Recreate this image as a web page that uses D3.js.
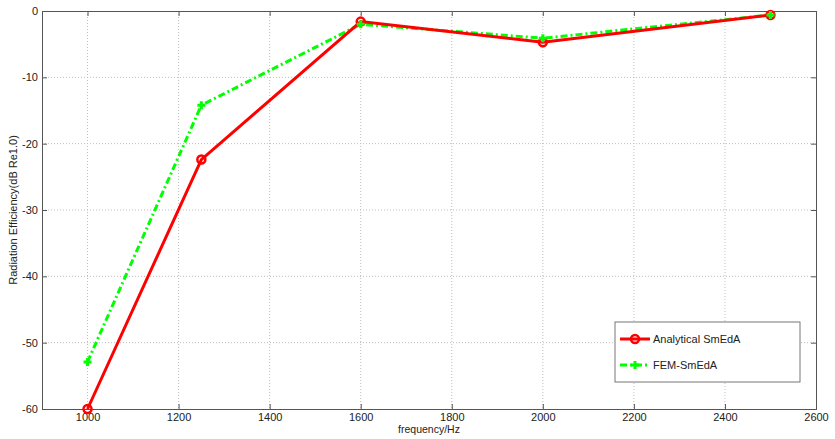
<!DOCTYPE html>
<html>
<head>
<meta charset="utf-8">
<script src="https://cdn.jsdelivr.net/npm/d3@7"></script>
<style>
  body { margin: 0; background: #fff; }
  svg { display: block; font-family: "Liberation Sans", Arial, sans-serif; }
</style>
</head>
<body>
<svg id="chart" width="835" height="439"></svg>
<script>
// Frequencies (Hz) and radiation efficiency (dB re 1.0)
const frequencies = [1000, 1250, 1600, 2000, 2500];
const analytical = [-60, -22.4, -1.6, -4.7, -0.6];
const fem = [-52.9, -14.2, -2.0, -4.1, -0.6];
const xTicks = [1000, 1200, 1400, 1600, 1800, 2000, 2200, 2400, 2600];
const yTicks = [0, -10, -20, -30, -40, -50, -60];

const svg = d3.select("#chart");
const m = { left: 42, top: 11, right: 816, bottom: 409 };

const x = d3.scaleLinear().domain([900, 2600]).range([m.left, m.right]);
const y = d3.scaleLinear().domain([-60, 0]).range([m.bottom, m.top]);

// dotted grid
const grid = svg.append("g").attr("stroke", "#bdbdbd").attr("stroke-dasharray", "1,2").attr("stroke-width", 1);
xTicks.filter(t => t > 900 && t < 2600).forEach(t => {
  grid.append("line").attr("x1", x(t)).attr("x2", x(t)).attr("y1", m.top).attr("y2", m.bottom);
});
yTicks.filter(t => t > -60 && t < 0).forEach(t => {
  grid.append("line").attr("x1", m.left).attr("x2", m.right).attr("y1", y(t)).attr("y2", y(t));
});

// axes with inward ticks, mirrored on top and right
const axisColor = "#555";
const fmt = d => String(d);
const ax = svg.append("g");
ax.append("g").attr("transform", `translate(0,${m.bottom})`)
  .call(d3.axisBottom(x).tickValues(xTicks).tickSize(-5).tickPadding(4).tickFormat(fmt));
ax.append("g").attr("transform", `translate(0,${m.top})`)
  .call(d3.axisTop(x).tickValues(xTicks).tickSize(-5).tickFormat(""));
ax.append("g").attr("transform", `translate(${m.left},0)`)
  .call(d3.axisLeft(y).tickValues(yTicks).tickSize(-5).tickPadding(4).tickFormat(fmt));
ax.append("g").attr("transform", `translate(${m.right},0)`)
  .call(d3.axisRight(y).tickValues(yTicks).tickSize(-5).tickFormat(""));
ax.selectAll(".domain").attr("stroke", axisColor);
ax.selectAll(".tick line").attr("stroke", axisColor);
ax.selectAll(".tick text").attr("fill", "#222").style("font-size", "11px");

// axis titles
svg.append("text").attr("x", (m.left + m.right) / 2).attr("y", 433)
  .attr("text-anchor", "middle").style("font-size", "10.5px").attr("fill", "#222").text("frequency/Hz");
svg.append("text").attr("transform", `translate(17,${(m.top + m.bottom) / 2}) rotate(-90)`)
  .attr("text-anchor", "middle").style("font-size", "11px").attr("fill", "#222").text("Radiation Efficiency(dB Re1.0)");

const line = d3.line().x((d, i) => x(frequencies[i])).y(d => y(d));

// FEM series: green dash-dot with plus markers
svg.append("path").datum(fem).attr("d", line).attr("fill", "none")
  .attr("stroke", "#00ff00").attr("stroke-width", 3).attr("stroke-dasharray", "7,3,2,3");
// Analytical series: red solid with circle markers
svg.append("path").datum(analytical).attr("d", line).attr("fill", "none")
  .attr("stroke", "#ff0000").attr("stroke-width", 3);

function plus(g, cx, cy) {
  g.append("path").attr("d", `M${cx - 4},${cy}H${cx + 4}M${cx},${cy - 4}V${cy + 4}`)
    .attr("stroke", "#00ff00").attr("stroke-width", 3).attr("fill", "none");
}
function circle(g, cx, cy) {
  g.append("circle").attr("cx", cx).attr("cy", cy).attr("r", 4)
    .attr("stroke", "#ff0000").attr("stroke-width", 2.5).attr("fill", "none");
}
const marks = svg.append("g");
analytical.forEach((v, i) => circle(marks, x(frequencies[i]), y(v)));
fem.forEach((v, i) => plus(marks, x(frequencies[i]), y(v)));

// legend
const lg = svg.append("g");
lg.append("rect").attr("x", 615).attr("y", 322).attr("width", 185).attr("height", 60)
  .attr("fill", "#fff").attr("stroke", "#777").attr("stroke-width", 1);
lg.append("line").attr("x1", 620).attr("x2", 650).attr("y1", 339).attr("y2", 339)
  .attr("stroke", "#ff0000").attr("stroke-width", 3);
circle(lg, 635, 339);
lg.append("text").attr("x", 653).attr("y", 343).style("font-size", "11px").attr("fill", "#222").text("Analytical SmEdA");
lg.append("line").attr("x1", 620).attr("x2", 650).attr("y1", 365).attr("y2", 365)
  .attr("stroke", "#00ff00").attr("stroke-width", 3).attr("stroke-dasharray", "7,3,2,3");
plus(lg, 635, 365);
lg.append("text").attr("x", 653).attr("y", 369).style("font-size", "11px").attr("fill", "#222").text("FEM-SmEdA");
</script>
</body>
</html>
